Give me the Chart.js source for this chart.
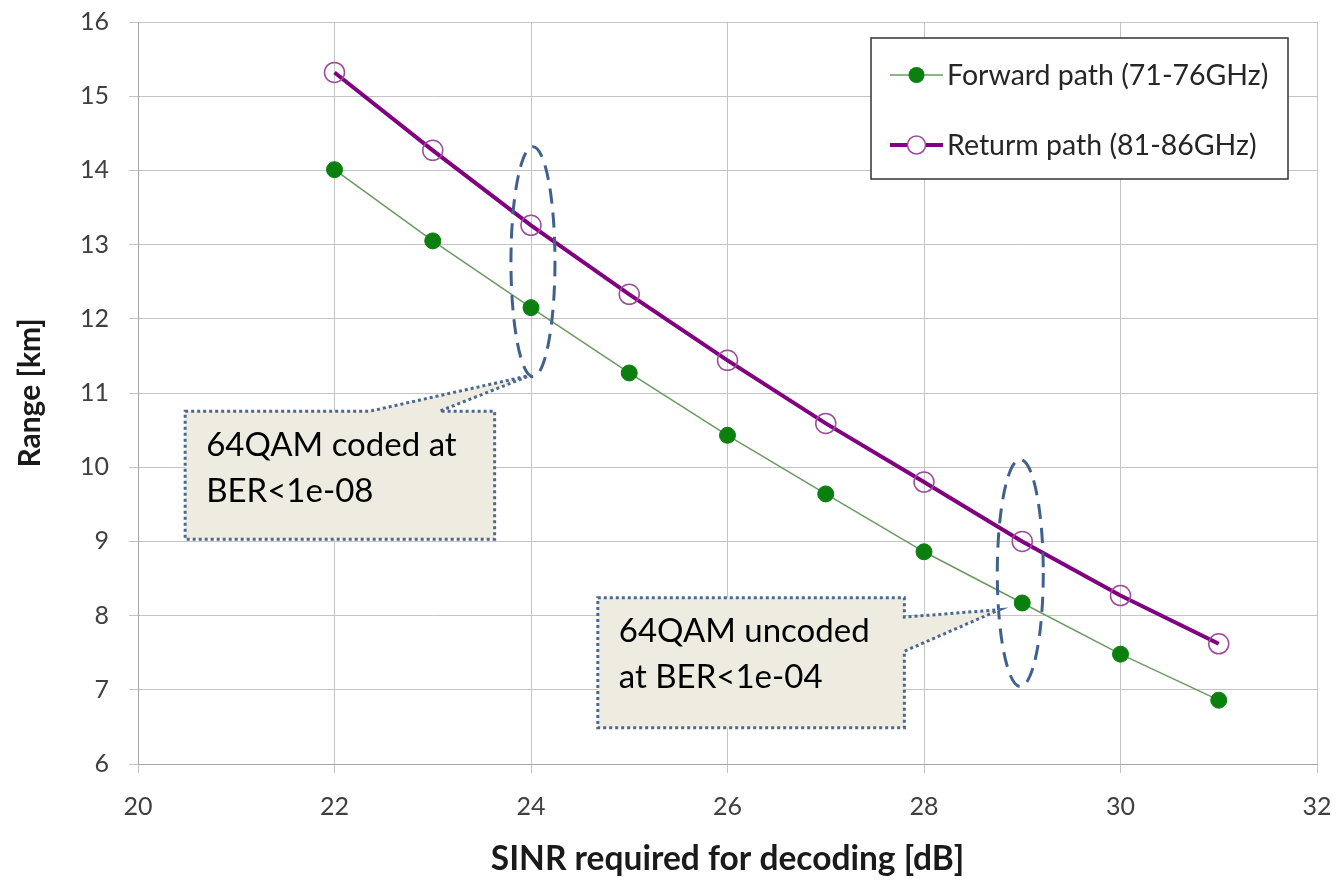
<!DOCTYPE html>
<html><head><meta charset="utf-8">
<script src="https://cdn.jsdelivr.net/npm/chart.js@4.4.0/dist/chart.umd.min.js"></script>
<style>html,body{margin:0;padding:0;background:#fff;}#wrap{width:1337px;height:884px;}</style>
</head><body><div id="wrap"><canvas id="c" width="1337" height="884"></canvas></div>
<script>
// ---- data ----
const sinrValues = [22, 23, 24, 25, 26, 27, 28, 29, 30, 31];
const forwardRange = [14.01, 13.05, 12.15, 11.27, 10.43, 9.64, 8.86, 8.17, 7.48, 6.86];
const returnRange = [15.32, 14.27, 13.26, 12.33, 11.44, 10.59, 9.80, 9.00, 8.27, 7.62];
const xTickValues = [20, 22, 24, 26, 28, 30, 32];
const yTickValues = [6, 7, 8, 9, 10, 11, 12, 13, 14, 15, 16];
const seriesNames = ['Forward path (71-76GHz)', 'Returm path (81-86GHz)'];
const xAxisTitle = 'SINR required for decoding [dB]';
const yAxisTitle = 'Range [km]';
const calloutTexts = [['64QAM coded at', 'BER<1e-08'], ['64QAM uncoded', 'at BER<1e-04']];

// ---- annotation geometry (data units) ----
const ellipses = [
  {cx: 24.02, cy: 12.77, rx: 0.224, ry: 1.55},
  {cx: 28.98, cy: 8.575, rx: 0.234, ry: 1.53}
];
const callouts = [
  {x0: 20.48, y0: 10.755, x1: 23.63, y1: 9.03, side: 'top', w0: 22.36, w1: 23.07, tx: 24.0, ty: 11.24},
  {x0: 24.68, y0: 8.24, x1: 27.80, y1: 6.49, side: 'right', w0: 7.98, w1: 7.52, tx: 28.77, ty: 8.08}
];

const FONT = 'Lato, "Open Sans", sans-serif';

const toPts = (xs, ys) => xs.map((x, i) => ({x: x, y: ys[i]}));

const annotPlugin = {
  id: 'annot',
  afterDatasetsDraw(chart) {
    const ctx = chart.ctx, xs = chart.scales.x, ys = chart.scales.y;
    const X = v => xs.getPixelForValue(v), Y = v => ys.getPixelForValue(v);
    ctx.save();
    ellipses.forEach(e => {
      const cx = X(e.cx), cy = Y(e.cy);
      const rx = Math.abs(X(e.cx + e.rx) - cx), ry = Math.abs(Y(e.cy + e.ry) - cy);
      ctx.beginPath();
      ctx.ellipse(cx, cy, rx, ry, 0, 0, Math.PI * 2);
      ctx.setLineDash([15, 9]);
      ctx.lineWidth = 3;
      ctx.strokeStyle = '#41618c';
      ctx.stroke();
    });
    callouts.forEach((c, i) => {
      const L = X(c.x0), T = Y(c.y0), R = X(c.x1), B = Y(c.y1);
      const tx = X(c.tx), ty = Y(c.ty);
      ctx.beginPath();
      ctx.moveTo(L, T);
      if (c.side === 'top') {
        ctx.lineTo(X(c.w0), T); ctx.lineTo(tx, ty); ctx.lineTo(X(c.w1), T);
        ctx.lineTo(R, T); ctx.lineTo(R, B);
      } else {
        ctx.lineTo(R, T); ctx.lineTo(R, Y(c.w0)); ctx.lineTo(tx, ty); ctx.lineTo(R, Y(c.w1));
        ctx.lineTo(R, B);
      }
      ctx.lineTo(L, B);
      ctx.closePath();
      ctx.fillStyle = '#eeece1';
      ctx.fill();
      ctx.setLineDash([3, 3]);
      ctx.lineWidth = 3;
      ctx.strokeStyle = '#4a6891';
      ctx.stroke();
      ctx.setLineDash([]);
      ctx.fillStyle = '#000';
      ctx.font = '33px ' + FONT;
      ctx.textBaseline = 'middle';
      ctx.textAlign = 'left';
      calloutTexts[i].forEach((t, k) => ctx.fillText(t, L + 21, T + 34 + k * 46));
    });
    ctx.restore();
  },
  afterDraw(chart) {
    const ctx = chart.ctx, a = chart.chartArea;
    const W = 417, H = 141;
    const bx = a.right - 29 - W, by = a.top + 16;
    ctx.save();
    ctx.fillStyle = '#fff';
    ctx.fillRect(bx, by, W, H);
    ctx.lineWidth = 1.5;
    ctx.strokeStyle = '#333';
    ctx.strokeRect(bx, by, W, H);
    chart.data.datasets.forEach((ds, i) => {
      const ly = by + 37 + i * 70;
      ctx.beginPath();
      ctx.moveTo(bx + 19, ly); ctx.lineTo(bx + 72, ly);
      ctx.strokeStyle = ds.borderColor; ctx.lineWidth = ds.borderWidth;
      ctx.stroke();
      ctx.beginPath();
      ctx.arc(bx + 45.5, ly, i === 0 ? 8 : 9, 0, Math.PI * 2);
      if (i === 0) { ctx.fillStyle = ds.pointBackgroundColor; ctx.fill(); }
      else { ctx.fillStyle = '#fff'; ctx.fill(); ctx.lineWidth = 1.5; ctx.strokeStyle = ds.pointBorderColor; ctx.stroke(); }
      ctx.fillStyle = '#262626';
      ctx.font = '28.5px ' + FONT;
      ctx.textBaseline = 'middle';
      ctx.textAlign = 'left';
      ctx.fillText(ds.label, bx + 76, ly + 1);
    });
    ctx.restore();
  }
};

new Chart(document.getElementById('c'), {
  type: 'scatter',
  data: {
    datasets: [
      {
        label: seriesNames[0],
        data: toPts(sinrValues, forwardRange),
        showLine: true,
        borderColor: '#6b9a63',
        borderWidth: 1.5,
        pointRadius: 8,
        pointHoverRadius: 8,
        pointBackgroundColor: '#0b800f',
        pointBorderColor: '#0b800f',
        pointBorderWidth: 1,
        tension: 0
      },
      {
        label: seriesNames[1],
        data: toPts(sinrValues, returnRange),
        showLine: true,
        borderColor: '#800080',
        borderWidth: 4,
        pointRadius: 10,
        pointHoverRadius: 10,
        pointBackgroundColor: 'rgba(255,255,255,0)',
        pointBorderColor: '#9c4c9c',
        pointBorderWidth: 1.5,
        tension: 0
      }
    ]
  },
  options: {
    responsive: false,
    animation: false,
    devicePixelRatio: 1,
    layout: {padding: {top: 22, right: 20, left: 0, bottom: 0}},
    plugins: {legend: {display: false}, tooltip: {enabled: false}},
    scales: {
      x: {
        type: 'linear', min: 20, max: 32,
        afterBuildTicks: s => { s.ticks = xTickValues.map(v => ({value: v})); },
        afterFit: s => { s.height = 120; s.paddingLeft = 0; s.paddingRight = 0; },
        grid: {color: '#c4c4c4', lineWidth: 1, tickLength: 9},
        border: {color: '#a6a6a6'},
        ticks: {font: {family: FONT, size: 25}, color: '#404040', padding: 19},
        title: {display: true, text: xAxisTitle, font: {family: FONT, size: 33.5, weight: 'bold'}, color: '#1a1a1a', padding: {top: 0, bottom: 5}}
      },
      y: {
        type: 'linear', min: 6, max: 16,
        afterBuildTicks: s => { s.ticks = yTickValues.map(v => ({value: v})); },
        afterFit: s => { s.width = 138; s.paddingTop = 0; s.paddingBottom = 0; },
        grid: {color: '#c4c4c4', lineWidth: 1, tickLength: 9},
        border: {color: '#a6a6a6'},
        ticks: {font: {family: FONT, size: 25}, color: '#404040', padding: 20},
        title: {display: true, text: yAxisTitle, font: {family: FONT, size: 30, weight: 'bold'}, color: '#1a1a1a', padding: {top: 12, bottom: 0}}
      }
    }
  },
  plugins: [annotPlugin]
});
</script></body></html>
